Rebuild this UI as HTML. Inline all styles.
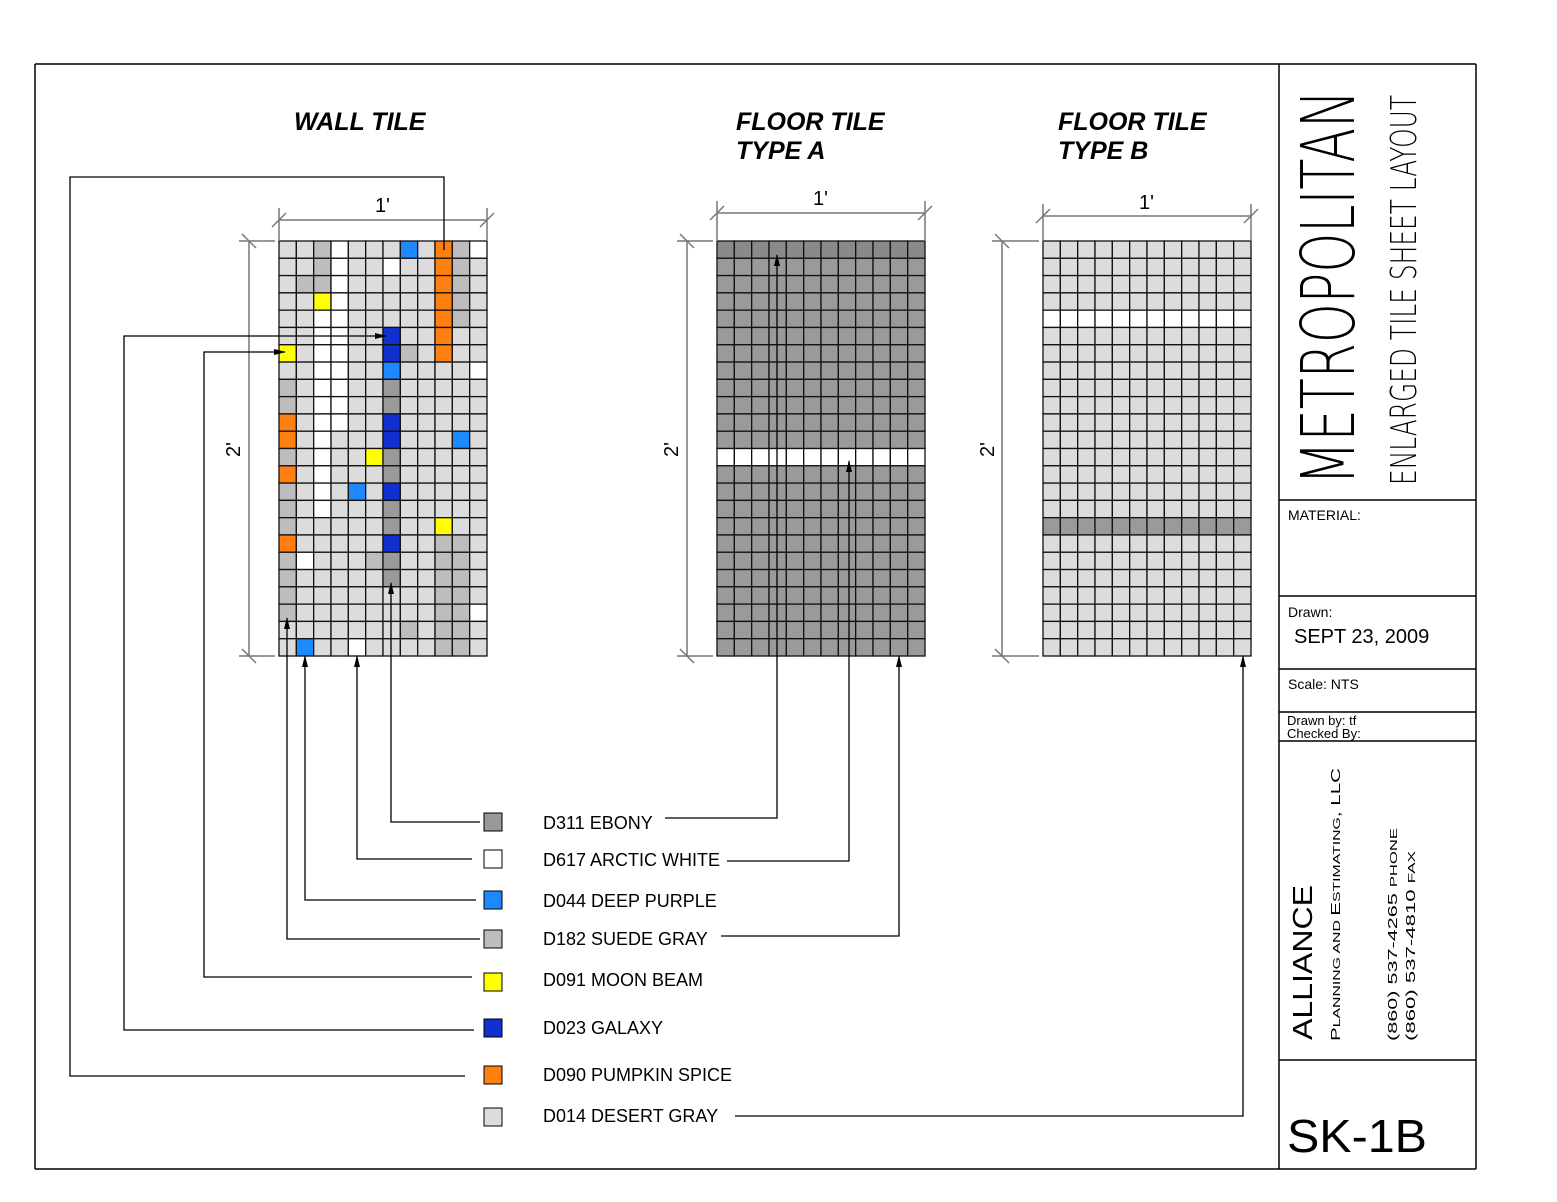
<!DOCTYPE html>
<html><head><meta charset="utf-8"><style>html,body{margin:0;padding:0;background:#fff}svg{display:block}</style></head>
<body>
<svg id="s" width="1557" height="1202" xmlns="http://www.w3.org/2000/svg" font-family="Liberation Sans, sans-serif">
<defs><marker id="ar" markerWidth="12" markerHeight="8" refX="11" refY="4" orient="auto" markerUnits="userSpaceOnUse"><path d="M0,1 L12,4 L0,7 Z" fill="#000"/></marker></defs>
<g stroke="#000" stroke-width="1.5" fill="none">
<line x1="35" y1="64" x2="1476" y2="64"/><line x1="35" y1="64" x2="35" y2="1169"/>
<line x1="35" y1="1169" x2="1476" y2="1169"/><line x1="1476" y1="64" x2="1476" y2="1169"/>
<line x1="1279" y1="64" x2="1279" y2="1169"/>
<line x1="1279" y1="500" x2="1476" y2="500"/><line x1="1279" y1="596" x2="1476" y2="596"/>
<line x1="1279" y1="669" x2="1476" y2="669"/><line x1="1279" y1="712" x2="1476" y2="712"/>
<line x1="1279" y1="741" x2="1476" y2="741"/><line x1="1279" y1="1060" x2="1476" y2="1060"/>
</g>
<g id="tiles"></g>
<g id="dims" stroke="#777" stroke-width="1.5" fill="none"></g>
<g stroke="#000" stroke-width="1.3" fill="none">
<polyline points="480,822 391,822 391,583" marker-end="url(#ar)"/>
<polyline points="472,859 357,859 357,656" marker-end="url(#ar)"/>
<polyline points="476,900 305,900 305,656" marker-end="url(#ar)"/>
<polyline points="480,939 287,939 287,618" marker-end="url(#ar)"/>
<polyline points="472,977 204,977 204,352 285,352" marker-end="url(#ar)"/>
<polyline points="474,1030 124,1030 124,336 386,336" marker-end="url(#ar)"/>
<polyline points="465,1076 70,1076 70,177 444,177 444,250"/>
<polyline points="665,818 777,818 777,255" marker-end="url(#ar)"/>
<polyline points="727,861 849,861 849,461" marker-end="url(#ar)"/>
<polyline points="721,936 899,936 899,656" marker-end="url(#ar)"/>
<polyline points="735,1116 1243,1116 1243,656" marker-end="url(#ar)"/>
</g>
<g stroke="#000" stroke-width="1">
<rect x="484" y="813" width="18" height="18" fill="#999"/>
<rect x="484" y="850" width="18" height="18" fill="#fff"/>
<rect x="484" y="891" width="18" height="18" fill="#1e88ff"/>
<rect x="484" y="930" width="18" height="18" fill="#bdbdbd"/>
<rect x="484" y="973" width="18" height="18" fill="#ffff00"/>
<rect x="484" y="1019" width="18" height="18" fill="#1030d0"/>
<rect x="484" y="1066" width="18" height="18" fill="#ff7f10"/>
<rect x="484" y="1108" width="18" height="18" fill="#dcdcdc"/>
</g>
<g font-size="18" fill="#000">
<text x="543" y="829">D311 EBONY</text>
<text x="543" y="866">D617 ARCTIC WHITE</text>
<text x="543" y="907">D044 DEEP PURPLE</text>
<text x="543" y="945">D182 SUEDE GRAY</text>
<text x="543" y="986">D091 MOON BEAM</text>
<text x="543" y="1034">D023 GALAXY</text>
<text x="543" y="1081">D090 PUMPKIN SPICE</text>
<text x="543" y="1122">D014 DESERT GRAY</text>
</g>
<g font-size="25" font-weight="bold" font-style="italic">
<text x="294" y="130">WALL TILE</text>
<text x="736" y="130">FLOOR TILE</text><text x="736" y="159">TYPE A</text>
<text x="1058" y="130">FLOOR TILE</text><text x="1058" y="159">TYPE B</text>
</g>
<g font-size="20">
<text x="375" y="212">1'</text><text x="813" y="205">1'</text><text x="1139" y="209">1'</text>
<text transform="translate(240,457) rotate(-90)">2'</text>
<text transform="translate(678,457) rotate(-90)">2'</text>
<text transform="translate(994,457) rotate(-90)">2'</text>
</g>
<text transform="translate(1354,485) rotate(-90)" font-size="74" textLength="395" lengthAdjust="spacingAndGlyphs" font-family="DejaVu Sans, sans-serif" style="font-weight:200">METROPOLITAN</text>
<text transform="translate(1416,485) rotate(-90)" font-size="36" textLength="390" lengthAdjust="spacingAndGlyphs" font-family="DejaVu Sans, sans-serif" style="font-weight:200">ENLARGED TILE SHEET LAYOUT</text>
<text x="1288" y="520" font-size="14">MATERIAL:</text>
<text x="1288" y="617" font-size="14">Drawn:</text>
<text x="1294" y="643" font-size="20">SEPT 23, 2009</text>
<text x="1288" y="689" font-size="14">Scale: NTS</text>
<text x="1287" y="725" font-size="13">Drawn by: tf</text>
<text x="1287" y="738" font-size="13">Checked By:</text>
<text transform="translate(1312,1040) rotate(-90)" font-size="28" textLength="155" lengthAdjust="spacingAndGlyphs">ALLIANCE</text>
<text transform="translate(1340,1041) rotate(-90)" font-size="13" textLength="273" lengthAdjust="spacingAndGlyphs">P<tspan font-size="10">LANNING AND </tspan>E<tspan font-size="10">STIMATING</tspan>, LLC</text>
<text transform="translate(1397,1041) rotate(-90)" font-size="13" textLength="213" lengthAdjust="spacingAndGlyphs">(860) 537-4265 <tspan font-size="10">PHONE</tspan></text>
<text transform="translate(1415,1041) rotate(-90)" font-size="13" textLength="190" lengthAdjust="spacingAndGlyphs">(860) 537-4810 <tspan font-size="10">FAX</tspan></text>
<text x="1287" y="1152" font-size="46" textLength="140" lengthAdjust="spacingAndGlyphs">SK-1B</text>
</svg>
<script>
var NS="http://www.w3.org/2000/svg";
function el(p,t,a){var e=document.createElementNS(NS,t);for(var k in a)e.setAttribute(k,a[k]);p.appendChild(e);return e;}
var C={L:"#dcdcdc",S:"#bdbdbd",E:"#9a9a9a",W:"#ffffff",P:"#1e88ff",G:"#1030d0",Y:"#ffff00",O:"#ff7f10",D:"#8a8a8a"};
var wall=["LLSWLLLPLOSW","LLSWLLWLLOSL","LSSWLLLLLOSL","LLYWLLLLLOSL","LLWWLLLLLOSL","LLWWLLGLLOLL","YLWWLLGSLOLL","LLWWLLPLLLLW","SLWWLLELLLLL","SLWWLLELLLLL","OLWWLLGLLLLL","OLWLLLGLLLPL","SLWLLYELLLLL","OLWLLLELLLLL","SLWLPLGLLLLL","SLWLLLELLLLL","SLLLLLELLYLL","OLLLLLGLLSSL","SWLLLSELLSSL","SLLLLLELLSSL","SLLLLLLLLSSL","SLLLLLLLLSSW","LLLLLLLSLSSL","LPLLWLLLLSSL"];
var fa=[],fb=[];for(var r=0;r<24;r++){fa.push((r==12?"W":(r==0?"D":"E")).repeat(12));fb.push((r==4?"W":(r==16?"E":"L")).repeat(12));}
var g=document.getElementById("tiles");
function grid(x0,rows){var w=208/12,h=415/24;for(var r=0;r<24;r++)for(var c=0;c<12;c++)el(g,"rect",{x:x0+c*w,y:241+r*h,width:w,height:h,fill:C[rows[r][c]],stroke:"#111","stroke-width":1.3});}
grid(279,wall);grid(717,fa);grid(1043,fb);
var d=document.getElementById("dims");
function dim(x0,yh,xv){el(d,"line",{x1:x0,y1:yh,x2:x0+208,y2:yh});
[x0,x0+208].forEach(function(x){el(d,"line",{x1:x,y1:yh-12,x2:x,y2:241});el(d,"line",{x1:x-7,y1:yh+7,x2:x+7,y2:yh-7});});
el(d,"line",{x1:xv,y1:241,x2:xv,y2:656});
[241,656].forEach(function(y){el(d,"line",{x1:xv-10,y1:y,x2:x0-4,y2:y});el(d,"line",{x1:xv-7,y1:y-7,x2:xv+7,y2:y+7});});}
dim(279,220,249);dim(717,213,687);dim(1043,216,1002);
</script>
</body></html>
